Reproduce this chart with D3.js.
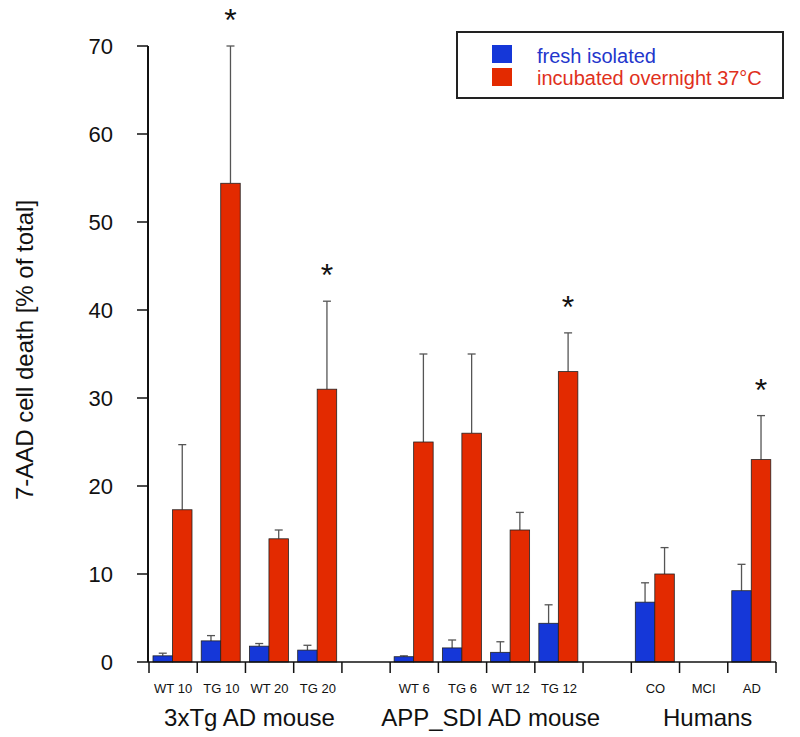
<!DOCTYPE html>
<html>
<head>
<meta charset="utf-8">
<script src="https://cdn.jsdelivr.net/npm/d3@7/dist/d3.min.js"></script>
<style>
  html, body { margin: 0; padding: 0; background: #fff; }
  svg { display: block; font-family: "Liberation Sans", Arial, Helvetica, sans-serif; }
</style>
</head>
<body>
<svg id="chart" width="800" height="737"></svg>
<script>
// ---- data ----
const categories = ["WT10", "TG10", "WT20", "TG20", "gap1", "WT6", "TG6", "WT12", "TG12", "gap2", "CO", "MCI", "AD"];
const tickLabels = ["WT 10", "TG 10", "WT 20", "TG 20", "", "WT 6", "TG 6", "WT 12", "TG 12", "", "CO", "MCI", "AD"];
const freshValues = [0.7, 2.4, 1.8, 1.35, null, 0.6, 1.6, 1.1, 4.4, null, 6.8, null, 8.1];
const freshErrors = [0.3, 0.6, 0.3, 0.55, null, 0.1, 0.9, 1.2, 2.1, null, 2.2, null, 3.0];
const incubatedValues = [17.3, 54.4, 14.0, 31.0, null, 25.0, 26.0, 15.0, 33.0, null, 10.0, null, 23.0];
const incubatedErrors = [7.4, 15.6, 1.0, 10.0, null, 10.0, 9.0, 2.0, 4.4, null, 3.0, null, 5.0];
const significant = ["TG10", "TG20", "TG12", "AD"];
const groups = [
  { label: "3xTg AD mouse", from: "WT10", to: "TG20" },
  { label: "APP_SDI AD mouse", from: "WT6", to: "TG12" },
  { label: "Humans", from: "CO", to: "AD" }
];
const seriesNames = ["fresh isolated", "incubated overnight 37°C"];
const yTicks = [0, 10, 20, 30, 40, 50, 60, 70];

// ---- styles ----
const colors = ["#1537d8", "#e32a00"];
const textColors = ["#2336cc", "#e0301c"];

const svg = d3.select("#chart");

const x = d3.scaleBand().domain(categories).range([149, 776]).paddingInner(0).paddingOuter(0);
const x1 = d3.scaleBand().domain([0, 1]).range([4, 43]);
const y = d3.scaleLinear().domain([0, 70]).range([662, 46]);

const series = [
  { values: freshValues, errors: freshErrors },
  { values: incubatedValues, errors: incubatedErrors }
];

// bars and error bars
series.forEach((s, si) => {
  const g = svg.append("g");
  const data = categories.map((c, i) => ({ c, v: s.values[i], e: s.errors[i] })).filter(d => d.v != null);
  g.selectAll("line.err").data(data).join("line")
    .attr("x1", d => x(d.c) + x1(si) + x1.bandwidth() / 2)
    .attr("x2", d => x(d.c) + x1(si) + x1.bandwidth() / 2)
    .attr("y1", d => y(d.v))
    .attr("y2", d => y(d.v + d.e))
    .attr("stroke", "#555").attr("stroke-width", 1.3);
  g.selectAll("line.cap").data(data).join("line")
    .attr("x1", d => x(d.c) + x1(si) + x1.bandwidth() / 2 - 4)
    .attr("x2", d => x(d.c) + x1(si) + x1.bandwidth() / 2 + 4)
    .attr("y1", d => y(d.v + d.e))
    .attr("y2", d => y(d.v + d.e))
    .attr("stroke", "#555").attr("stroke-width", 1.3);
  g.selectAll("rect").data(data).join("rect")
    .attr("x", d => x(d.c) + x1(si))
    .attr("width", x1.bandwidth())
    .attr("y", d => y(d.v))
    .attr("height", d => y(0) - y(d.v))
    .attr("fill", colors[si])
    .attr("stroke", "#222").attr("stroke-width", 0.8);
});

// significance asterisks
svg.append("g").selectAll("text").data(significant).join("text")
  .attr("x", c => x(c) + x1(1) + x1.bandwidth() / 2)
  .attr("y", c => { const i = categories.indexOf(c); return y(incubatedValues[i] + incubatedErrors[i]) - 15; })
  .attr("text-anchor", "middle")
  .attr("font-size", 32)
  .attr("fill", "#111")
  .text("*");

// y axis
const yAxis = svg.append("g");
yAxis.append("line").attr("x1", 148).attr("x2", 148).attr("y1", y(70)).attr("y2", y(0))
  .attr("stroke", "#111").attr("stroke-width", 2);
yAxis.selectAll("line.t").data(yTicks).join("line")
  .attr("x1", 137).attr("x2", 148).attr("y1", d => y(d)).attr("y2", d => y(d))
  .attr("stroke", "#111").attr("stroke-width", 1.5);
yAxis.selectAll("text").data(yTicks).join("text")
  .attr("x", 113).attr("y", d => y(d)).attr("dy", "0.36em")
  .attr("text-anchor", "end").attr("font-size", 22).attr("fill", "#111")
  .text(d => d);

svg.append("text")
  .attr("transform", "translate(33,350) rotate(-90)")
  .attr("text-anchor", "middle").attr("font-size", 24).attr("fill", "#111")
  .text("7-AAD cell death [% of total]");

// x axis
const xAxis = svg.append("g");
xAxis.append("line").attr("x1", 148).attr("x2", 776).attr("y1", y(0)).attr("y2", y(0))
  .attr("stroke", "#111").attr("stroke-width", 1.5);
const boundaries = categories.map(c => x(c)).concat([x(categories[categories.length - 1]) + x.bandwidth()]);
xAxis.selectAll("line.t").data(boundaries).join("line")
  .attr("x1", d => d).attr("x2", d => d).attr("y1", y(0)).attr("y2", y(0) + 11)
  .attr("stroke", "#111").attr("stroke-width", 1.5);
xAxis.selectAll("text").data(categories).join("text")
  .attr("x", c => x(c) + x.bandwidth() / 2)
  .attr("y", 693)
  .attr("text-anchor", "middle").attr("font-size", 13).attr("fill", "#111")
  .text((c, i) => tickLabels[i]);

svg.append("g").selectAll("text").data(groups).join("text")
  .attr("x", g => (x(g.from) + x(g.to) + x.bandwidth()) / 2 + 4)
  .attr("y", 726)
  .attr("text-anchor", "middle").attr("font-size", 24).attr("fill", "#111")
  .text(g => g.label);

// legend
const lg = svg.append("g");
lg.append("rect").attr("x", 457).attr("y", 32).attr("width", 326).attr("height", 66)
  .attr("fill", "#fff").attr("stroke", "#222").attr("stroke-width", 2);
seriesNames.forEach((n, i) => {
  lg.append("rect").attr("x", 492).attr("y", 45 + i * 23).attr("width", 20).attr("height", 18)
    .attr("fill", colors[i]);
  lg.append("text").attr("x", 537).attr("y", 62.5 + i * 22.5)
    .attr("font-size", 20).attr("fill", textColors[i]).text(n);
});
</script>
</body>
</html>
